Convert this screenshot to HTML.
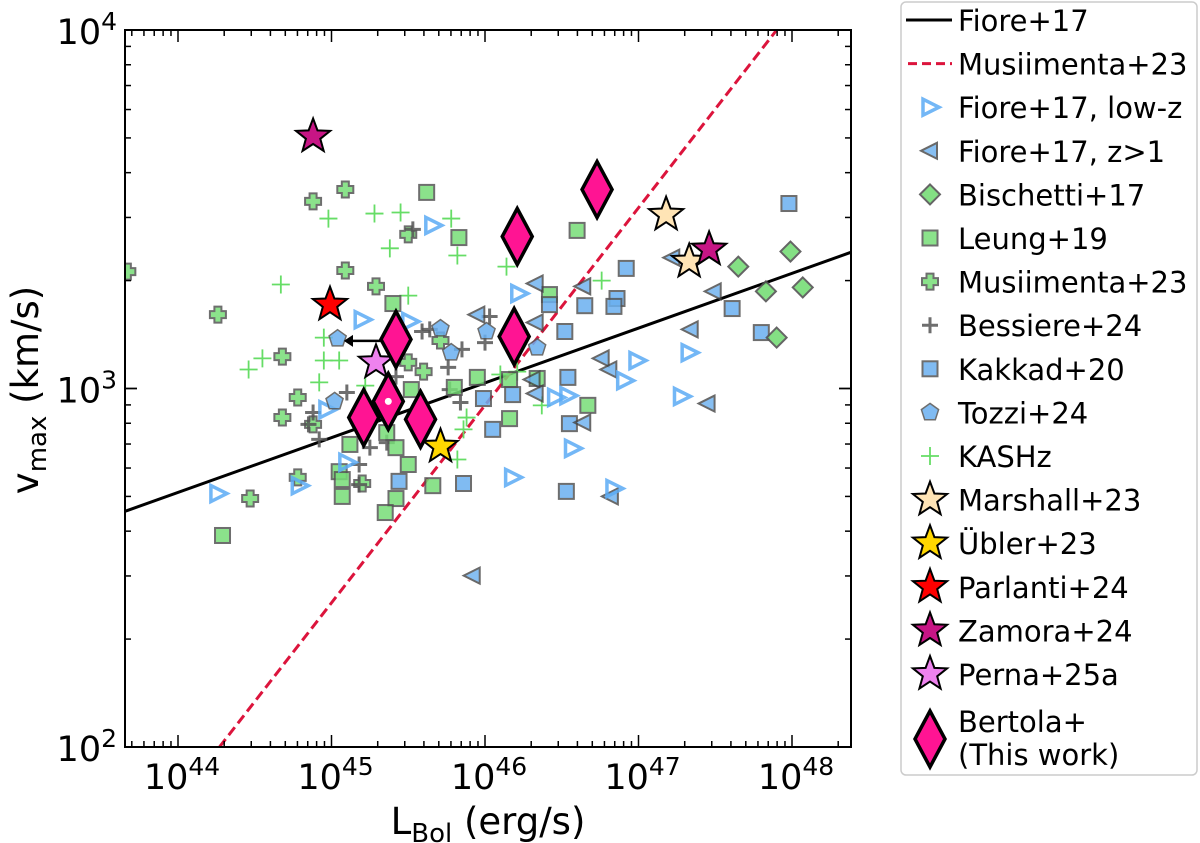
<!DOCTYPE html>
<html><head><meta charset="utf-8"><style>
html,body{margin:0;padding:0;background:#fff;}
svg{display:block;font-family:"DejaVu Sans","Liberation Sans",sans-serif;}
</style></head><body>
<svg id="chart" width="1200" height="843" viewBox="0 0 1200 843" xmlns="http://www.w3.org/2000/svg">
<g id="plot"></g>
<g id="axes"></g>
<g id="legend"></g>
</svg>
<script>
// Data: [log10 L_bol, log10 v_max]
const fioreLowZ=[[46.22,3.265],[46.99,3.078],[46.91,3.022],[47.33,3.100],[47.28,2.978],[46.46,2.975],[46.54,2.980],[46.57,2.833],[46.18,2.752],[46.84,2.721],[45.66,3.455],[45.20,3.192],[45.51,3.187],[44.97,2.941],[44.26,2.707],[44.79,2.729],[45.10,2.794]];
const fioreHighZ=[[46.33,3.293],[46.64,3.285],[47.22,3.365],[47.49,3.271],[47.34,3.165],[46.76,3.084],[46.81,3.053],[46.33,3.184],[45.95,3.206],[46.31,3.025],[46.33,2.986],[47.45,2.958],[46.64,2.905],[46.82,2.699],[45.92,2.478]];
const bischetti=[[47.65,3.340],[47.99,3.382],[47.83,3.271],[48.07,3.282],[47.90,3.142]];
const leung=[[45.62,3.547],[45.83,3.421],[45.40,3.237],[45.52,2.997],[45.95,3.031],[45.80,3.003],[45.50,2.788],[45.05,2.768],[45.07,2.746],[45.07,2.699],[45.42,2.693],[45.35,2.654],[45.66,2.729],[44.29,2.590],[45.12,2.844],[45.42,2.835],[45.36,2.877],[46.60,3.441],[46.42,3.262],[46.16,3.025],[46.67,2.953],[46.16,2.916],[46.34,3.028]];
const musiimenta=[[43.67,3.326],[45.09,3.555],[44.88,3.522],[45.09,3.329],[45.29,3.285],[44.26,3.206],[44.68,3.089],[44.78,2.975],[44.68,2.919],[44.88,2.900],[44.78,2.752],[44.47,2.693],[45.20,2.735],[45.60,3.047],[45.50,3.073],[45.71,3.134],[45.50,3.430]];
const bessiere=[[45.53,3.444],[45.59,3.159],[45.76,3.059],[45.85,3.109],[45.42,3.033],[45.10,2.989],[44.88,2.933],[44.92,2.858],[45.25,2.835],[45.36,2.849],[45.18,2.788],[45.77,2.997],[45.84,2.961],[45.64,3.165],[46.00,3.128],[45.18,2.732],[46.03,3.201],[44.85,2.90],[45.30,2.93]];
const kakkad=[[47.98,3.516],[46.92,3.335],[46.86,3.251],[46.65,3.231],[46.84,3.229],[47.61,3.223],[47.80,3.156],[46.52,3.159],[46.42,3.234],[46.18,2.983],[45.99,2.972],[46.54,3.031],[46.05,2.886],[46.55,2.902],[45.86,2.735],[46.53,2.713],[45.44,2.741]];
const tozzi=[[45.04,3.139],[45.02,2.964],[45.71,3.167],[45.78,3.100],[46.01,3.159],[46.34,3.114]];
const kashz=[[44.98,3.474],[45.28,3.488],[45.45,3.491],[45.78,3.474],[45.38,3.391],[45.82,3.371],[44.67,3.290],[45.50,3.259],[44.55,3.084],[44.46,3.053],[44.95,3.142],[44.95,3.078],[45.05,3.078],[44.92,3.017],[45.22,3.008],[45.82,2.802],[45.88,2.919],[46.14,3.340],[46.76,3.301],[46.10,3.039],[46.21,3.047],[46.37,2.953],[45.86,2.886]];
const marshall=[[47.18,3.485],[47.33,3.354]];
const ubler=[[45.71,2.838]];
const parlanti=[[44.99,3.234]];
const zamora=[[44.88,3.703],[47.46,3.388]];
const perna=[[45.29,3.073]];
const bertola=[[45.42,3.137],[45.21,2.919],[45.37,2.964],[45.58,2.914],[46.19,3.145],[46.21,3.424],[46.73,3.555]];
const xTicks=[44,45,46,47,48];
const yTicks=[2,3,4];
const fioreRel=[43.6,48.45,2.649,3.390]; // x0,x1,y0,y1
const musiRel=[44.27,47.90];              // log L at v=100 and v=1e4

const NS="http://www.w3.org/2000/svg";
const L=125,R=851,T=30,B=747;
const X0=178,PX=153.5; // 10^44 position, px per decade
const x=l=>X0+(l-44)*PX;
const y=v=>B-(v-2)*(B-T)/2;
function el(tag,attrs,parent){const e=document.createElementNS(NS,tag);for(const k in attrs)e.setAttribute(k,attrs[k]);parent.appendChild(e);return e;}
const plot=document.getElementById('plot'),axes=document.getElementById('axes'),leg=document.getElementById('legend');
const clip=el('clipPath',{id:'clp'},plot);el('rect',{x:L,y:T,width:R-L,height:B-T},clip);
const g=el('g',{'clip-path':'url(#clp)'},plot);

function star(cx,cy,r){let p=[];for(let i=0;i<10;i++){const a=-Math.PI/2+i*Math.PI/5;const rr=i%2?r*0.42:r;p.push((cx+rr*Math.cos(a)).toFixed(1)+','+(cy+rr*Math.sin(a)).toFixed(1));}return p.join(' ');}
function marker(type,cx,cy,par){
  let e;
  if(type==='rtri'){e=el('polygon',{points:`${cx-7},${cy-8} ${cx+9},${cy} ${cx-7},${cy+8}`,fill:'none',stroke:'#5aaaf5','stroke-width':3.5,opacity:0.85},par);}
  else if(type==='ltri'){e=el('polygon',{points:`${cx+7},${cy-8} ${cx-9},${cy} ${cx+7},${cy+8}`,fill:'#6ab0f0',stroke:'#444','stroke-width':2,opacity:0.8},par);}
  else if(type==='dia'){e=el('polygon',{points:`${cx},${cy-10} ${cx+10},${cy} ${cx},${cy+10} ${cx-10},${cy}`,fill:'#77dd77',stroke:'#555','stroke-width':2,opacity:0.9},par);}
  else if(type==='sqG'){e=el('rect',{x:cx-7.5,y:cy-7.5,width:15,height:15,fill:'#77dd77',stroke:'#555','stroke-width':2,opacity:0.85},par);}
  else if(type==='sqB'){e=el('rect',{x:cx-7.5,y:cy-7.5,width:15,height:15,fill:'#6ab0f0',stroke:'#555','stroke-width':2,opacity:0.85},par);}
  else if(type==='cross'){const s=8,w=3.5;e=el('polygon',{points:`${cx-w},${cy-s} ${cx+w},${cy-s} ${cx+w},${cy-w} ${cx+s},${cy-w} ${cx+s},${cy+w} ${cx+w},${cy+w} ${cx+w},${cy+s} ${cx-w},${cy+s} ${cx-w},${cy+w} ${cx-s},${cy+w} ${cx-s},${cy-w} ${cx-w},${cy-w}`,fill:'#77dd77',stroke:'#555','stroke-width':2,opacity:0.85},par);}
  else if(type==='plusD'){e=el('path',{d:`M${cx-8},${cy}H${cx+8}M${cx},${cy-8}V${cy+8}`,stroke:'#555','stroke-width':3,opacity:0.85},par);}
  else if(type==='pent'){let p=[];for(let i=0;i<5;i++){const a=-Math.PI/2+i*2*Math.PI/5;p.push((cx+9*Math.cos(a)).toFixed(1)+','+(cy+9*Math.sin(a)).toFixed(1));}e=el('polygon',{points:p.join(' '),fill:'#6ab0f0',stroke:'#555','stroke-width':1.5,opacity:0.85},par);}
  else if(type==='plusG'){e=el('path',{d:`M${cx-9},${cy}H${cx+9}M${cx},${cy-9}V${cy+9}`,stroke:'#66dd66','stroke-width':1.8},par);}
  else if(type.startsWith('star')){const c=type.split(':')[1];e=el('polygon',{points:star(cx,cy,18),fill:c,stroke:'#000','stroke-width':2},par);}
  else if(type==='bert'){e=el('polygon',{points:`${cx},${cy-28} ${cx+15},${cy} ${cx},${cy+28} ${cx-15},${cy}`,fill:'#ff1493',stroke:'#000','stroke-width':3.5},par);}
  return e;
}

const fl=el('line',{x1:x(fioreRel[0]),y1:y(fioreRel[2]),x2:x(fioreRel[1]),y2:y(fioreRel[3]),stroke:'#000','stroke-width':3},g);


const ml=el('line',{x1:x(musiRel[0]),y1:y(2),x2:x(musiRel[1]),y2:y(4),stroke:'#dc143c','stroke-width':3,'stroke-dasharray':'10,5'},g);



const series=[[kashz,'plusG','kashz-point'],[musiimenta,'cross','musiimenta-point'],[bessiere,'plusD','bessiere-point'],[leung,'sqG','leung-point'],[kakkad,'sqB','kakkad-point'],[bischetti,'dia','bischetti-point'],[fioreHighZ,'ltri','fiore-highz-point'],[fioreLowZ,'rtri','fiore-lowz-point'],[tozzi,'pent','tozzi-point'],
 [marshall,'star:#ffe4b5','marshall-star'],[ubler,'star:#ffd700','ubler-star'],[parlanti,'star:#ff0000','parlanti-star'],[zamora,'star:#c71585','zamora-star'],[perna,'star:#ee82ee','perna-star']];
for(const [d,t,n] of series){for(const p of d){const m=marker(t,x(p[0]),y(p[1]),g);
 
 }}
const ax=el('path',{d:`M${x(45.34)},${y(3.133)}H${x(45.12)}`,stroke:'#000','stroke-width':2.5},g);


el('polygon',{points:`${x(45.08)},${y(3.133)} ${x(45.14)},${y(3.133)-6} ${x(45.14)},${y(3.133)+6}`,fill:'#000'},g);
for(let i=0;i<bertola.length;i++){const p=bertola[i];const m=marker('bert',x(p[0]),y(p[1]),g);
 
 
 if(i===2)el('circle',{cx:x(p[0]),cy:y(p[1]),r:3.5,fill:'#fff'},g);}

const fr=el('rect',{x:L,y:T,width:R-L,height:B-T,fill:'none',stroke:'#000','stroke-width':2},axes);


for(let dec=43;dec<=48;dec++){for(let k=1;k<10;k++){const l=dec+Math.log10(k);const px=x(l);if(px<L||px>R)continue;const len=k===1?12:6;
 el('line',{x1:px,y1:B,x2:px,y2:B-len,stroke:'#000','stroke-width':1.5},axes);el('line',{x1:px,y1:T,x2:px,y2:T+len,stroke:'#000','stroke-width':1.5},axes);}}
for(let dec=2;dec<=3;dec++){for(let k=1;k<=10;k++){const v=dec+Math.log10(k);const py=y(v);const len=(k===1||k===10)?12:6;
 el('line',{x1:L,y1:py,x2:L+len,y2:py,stroke:'#000','stroke-width':1.5},axes);el('line',{x1:R,y1:py,x2:R-len,y2:py,stroke:'#000','stroke-width':1.5},axes);}}
for(const t of xTicks){const tx=el('text',{x:x(t)+4,y:B+42,'font-size':35,'text-anchor':'middle'},axes);tx.innerHTML=`10<tspan dy="-14" font-size="25">${t}</tspan>`;
 
 }
for(const t of yTicks){const tx=el('text',{x:L-8,y:y(t)+14,'font-size':35,'text-anchor':'end'},axes);tx.innerHTML=`10<tspan dy="-14" font-size="25">${t}</tspan>`;
 
 }
const xt=el('text',{x:488,y:834,'font-size':37,'text-anchor':'middle'},axes);xt.innerHTML='L<tspan font-size="26" dy="8">Bol</tspan><tspan dy="-8"> (erg/s)</tspan>';


const yt=el('text',{x:0,y:0,'font-size':37,'text-anchor':'middle',transform:'translate(38,390) rotate(-90)'},axes);yt.innerHTML='v<tspan font-size="26" dy="8">max</tspan><tspan dy="-8"> (km/s)</tspan>';



const lb=el('rect',{x:901,y:2,width:296,height:773,rx:5,fill:'#fff',stroke:'#ccc','stroke-width':1.5},leg);


const items=[['line','Fiore+17'],['dash','Musiimenta+23'],['rtri','Fiore+17, low-z'],['ltri','Fiore+17, z>1'],['dia','Bischetti+17'],['sqG','Leung+19'],['cross','Musiimenta+23'],['plusD','Bessiere+24'],['sqB','Kakkad+20'],['pent','Tozzi+24'],['plusG','KASHz'],['star:#ffe4b5','Marshall+23'],['star:#ffd700','Übler+23'],['star:#ff0000','Parlanti+24'],['star:#c71585','Zamora+24'],['star:#ee82ee','Perna+25a']];
items.forEach((it,i)=>{const cy=20+i*43.6;const gi=el('g',{},leg);
 
 
 if(it[0]==='line')el('line',{x1:906,y1:cy,x2:952,y2:cy,stroke:'#000','stroke-width':3},gi);
 else if(it[0]==='dash')el('line',{x1:908,y1:cy,x2:952,y2:cy,stroke:'#dc143c','stroke-width':3,'stroke-dasharray':'9,5'},gi);
 else {const m=marker(it[0],930,cy,gi);if(it[0].startsWith('star'))m.setAttribute('points',star(930,cy,18));}
 const t=el('text',{x:958,y:cy+11,'font-size':29},gi);t.textContent=it[1];});
const gb=el('g',{},leg);


marker('bert',930,739,gb);
const t1=el('text',{x:958,y:732,'font-size':29},gb);t1.textContent='Bertola+';
const t2=el('text',{x:958,y:765,'font-size':29},gb);t2.textContent='(This work)';
</script>
</body></html>
